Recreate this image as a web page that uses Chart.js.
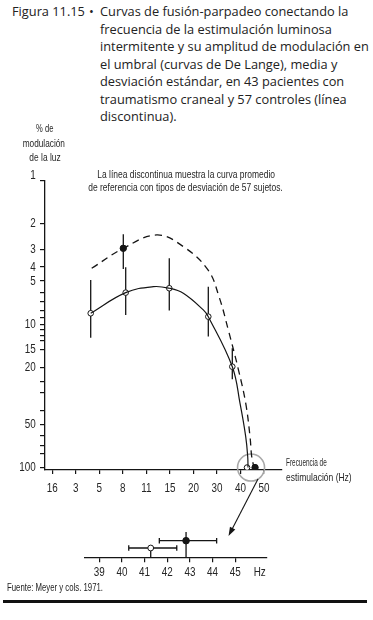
<!DOCTYPE html>
<html lang="es">
<head>
<meta charset="utf-8">
<title>Figura 11.15</title>
<script src="https://cdn.jsdelivr.net/npm/chart.js@4.4.1/dist/chart.umd.min.js"></script>
<style>
  html, body { margin: 0; padding: 0; background: #fff; }
  body { width: 373px; height: 620px; position: relative; overflow: hidden; }
  canvas { position: absolute; left: 0; }
  #mainChart { top: 0; }
  #insetChart { top: 500px; }
  .cap { position: absolute; font-family: "Open Sans", sans-serif; font-size: 12.8px;
         line-height: 17.5px; color: #222; white-space: nowrap; }
  #capLabel { left: 12px; top: 3px; }
  #capDot { left: 89px; top: 3px; }
  #capText { left: 100px; top: 3px; }
  #source { position: absolute; left: 7px; top: 582px; font-family: "Liberation Sans", sans-serif;
            font-size: 10px; line-height: 12px; color: #222; white-space: nowrap; transform-origin: 0 0; }
  #rule { position: absolute; left: 3px; top: 600px; width: 364px; height: 2.5px; background: #111; }
</style>
</head>
<body>
<div class="cap" id="capLabel">Figura 11.15</div>
<div class="cap" id="capDot">•</div>
<div class="cap" id="capText">
  <div>Curvas de fusión-parpadeo conectando la</div>
  <div>frecuencia de la estimulación luminosa</div>
  <div>intermitente y su amplitud de modulación en</div>
  <div>el umbral (curvas de De Lange), media y</div>
  <div>desviación estándar, en 43 pacientes con</div>
  <div>traumatismo craneal y 57 controles (línea</div>
  <div>discontinua).</div>
</div>
<canvas id="mainChart" width="373" height="620"></canvas>
<canvas id="insetChart" width="373" height="90"></canvas>
<div id="source">Fuente: Meyer y cols. 1971.</div>
<div id="rule"></div>
<script>
// Curvas de De Lange
const xLabels = ['16', '3', '5', '8', '11', '15', '20', '30', '40', '50'];
const yTicks = [1, 2, 3, 4, 5, 6, 7, 8, 9, 10, 11, 12, 13, 15, 20, 25, 30, 40, 50, 60, 70, 80, 100];
const yLabels = [1, 2, 3, 4, 5, 10, 15, 20, 50, 100];

// posicion a lo largo del eje de frecuencia (0 = primera marca)
const solidX = [1.633, 3.121, 4.294, 4.974, 5.57, 6.42, 6.633, 7.653, 7.98, 8.223, 8.308, 8.321];
const solidY = [8.4, 6.03, 5.48, 5.62, 6.09, 7.96, 8.87, 19.8, 35.6, 60.8, 83.8, 100];
const dashedX = [1.675, 3.019, 4.439, 5.57, 6.62, 7.088, 7.483, 7.917, 8.223, 8.406, 8.478, 8.576];
const dashedY = [4.08, 2.96, 2.39, 2.88, 4.19, 6.43, 10.98, 20.9, 35.6, 60.8, 83.8, 100];

// pacientes (circulos abiertos), media y desviacion
const patientX = [1.633, 3.121, 4.974, 6.633, 7.653, 8.28];
const patientY = [8.4, 6.03, 5.62, 8.87, 19.8, 100];
const patientLow = [4.92, 4.01, 3.47, 5.48, 14.7];
const patientHigh = [12.42, 8.63, 8.05, 12.22, 24.2];

// controles (circulos llenos)
const controlX = [3.019, 8.62];
const controlY = [2.96, 100];
const controlLow = [2.36];
const controlHigh = [4.12];

// detalle: frecuencia critica en Hz
const insetTicks = [39, 40, 41, 42, 43, 44, 45];
const insetMean = [41.27, 42.83];
const insetLow = [40.3, 41.65];
const insetHigh = [42.42, 44.18];
const insetRow = [1.12, 2.0];
const insetStemTop = [1.12, 3.04];

const FONT = '"Liberation Sans", Arial, sans-serif';
const NARROW_SCALE = 0.76;
const INK = '#151515';
const TEXT = '#262626';

function toPoints(xs, ys) {
    return xs.map((x, i) => ({ x: x, y: ys[i] }));
}

// texto condensado: fuente normal comprimida en horizontal
function drawNarrow(ctx, text, x, y, size, sx, align) {
    ctx.save();
    ctx.font = size + 'px ' + FONT;
    ctx.translate(x, y);
    ctx.scale(sx, 1);
    ctx.textAlign = align;
    ctx.textBaseline = 'middle';
    ctx.fillStyle = TEXT;
    ctx.fillText(text, 0, 0);
    ctx.restore();
}

function drawFitted(ctx, text, x, y, size, width, align) {
    ctx.font = size + 'px ' + FONT;
    const w = ctx.measureText(text).width;
    drawNarrow(ctx, text, x, y, size, width / w, align);
}

const errorBars = {
    id: 'errorBars',
    beforeDatasetsDraw(chart) {
        const { ctx, scales: { x, y } } = chart;
        ctx.save();
        ctx.strokeStyle = INK;
        ctx.lineWidth = 1.3;
        const bars = (xs, lo, hi) => {
            lo.forEach((v, i) => {
                const px = x.getPixelForValue(xs[i]);
                ctx.beginPath();
                ctx.moveTo(px, y.getPixelForValue(v));
                ctx.lineTo(px, y.getPixelForValue(hi[i]));
                ctx.stroke();
            });
        };
        bars(patientX, patientLow, patientHigh);
        bars(controlX, controlLow, controlHigh);

        // circulo gris alrededor de los puntos finales
        const cx = (x.getPixelForValue(patientX[5]) + x.getPixelForValue(controlX[1])) / 2;
        const cy = y.getPixelForValue(100);
        ctx.strokeStyle = '#a8a8a8';
        ctx.lineWidth = 1.6;
        ctx.beginPath();
        ctx.arc(cx, cy, 13.5, 0, Math.PI * 2);
        ctx.stroke();
        ctx.restore();
    },
    afterDraw(chart) {
        const { ctx, scales: { x, y } } = chart;

        // etiquetas de los ejes
        x.ticks.forEach((t, i) => {
            drawNarrow(ctx, xLabels[i], x.getPixelForValue(t.value), 488.5, 13, NARROW_SCALE, 'center');
        });
        y.ticks.forEach(t => {
            if (!yLabels.includes(t.value)) return;
            const py = y.getPixelForValue(t.value) - (t.value === 1 ? 5 : 0);
            drawNarrow(ctx, String(t.value), 35.8, py, 13, NARROW_SCALE, 'right');
        });

        drawFitted(ctx, '% de', 44.7, 129, 10.5, 17.3, 'center');
        drawFitted(ctx, 'modulación', 43.8, 144.3, 10.5, 42.3, 'center');
        drawFitted(ctx, 'de la luz', 45, 158.3, 10.5, 31.3, 'center');

        drawFitted(ctx, 'La línea discontinua muestra la curva promedio', 186.2, 175.5, 10.5, 177.7, 'center');
        drawFitted(ctx, 'de referencia con tipos de desviación de 57 sujetos.', 185.5, 188, 10.5, 194.4, 'center');

        drawFitted(ctx, 'Frecuencia de', 286, 463.3, 11, 40.7, 'left');
        drawFitted(ctx, 'estimulación (Hz)', 286, 478.3, 11, 65.7, 'left');

        // flecha hacia el detalle
        const x0 = 258, y0 = 479, x1 = 228.5, y1 = 536;
        const a = Math.atan2(y1 - y0, x1 - x0);
        ctx.save();
        ctx.strokeStyle = INK;
        ctx.fillStyle = INK;
        ctx.lineWidth = 1.1;
        ctx.beginPath();
        ctx.moveTo(x0, y0);
        ctx.lineTo(x1 - 6 * Math.cos(a), y1 - 6 * Math.sin(a));
        ctx.stroke();
        ctx.beginPath();
        ctx.moveTo(x1, y1);
        ctx.lineTo(x1 - 9 * Math.cos(a) + 3 * Math.sin(a), y1 - 9 * Math.sin(a) - 3 * Math.cos(a));
        ctx.lineTo(x1 - 9 * Math.cos(a) - 3 * Math.sin(a), y1 - 9 * Math.sin(a) + 3 * Math.cos(a));
        ctx.closePath();
        ctx.fill();
        ctx.restore();
    }
};

new Chart(document.getElementById('mainChart'), {
    type: 'scatter',
    data: {
        datasets: [{
            data: toPoints(solidX, solidY),
            showLine: true,
            borderColor: INK,
            borderWidth: 1.2,
            pointRadius: 0,
            tension: 0.4
        }, {
            data: toPoints(dashedX, dashedY),
            showLine: true,
            borderColor: INK,
            borderWidth: 1.3,
            borderDash: [7, 5],
            pointRadius: 0,
            tension: 0.4
        }, {
            data: toPoints(patientX, patientY),
            pointRadius: 2.8,
            pointBackgroundColor: '#fff',
            pointBorderColor: INK,
            pointBorderWidth: 1
        }, {
            data: toPoints(controlX, controlY),
            pointRadius: 3.2,
            pointBackgroundColor: INK,
            pointBorderColor: INK,
            pointBorderWidth: 1
        }]
    },
    options: {
        responsive: false,
        animation: false,
        devicePixelRatio: 1,
        layout: { padding: { top: 180.7, left: 0, right: 91, bottom: 120 } },
        plugins: { legend: { display: false }, tooltip: { enabled: false } },
        scales: {
            x: {
                type: 'linear',
                min: -0.31,
                max: 9.766,
                afterBuildTicks: s => { s.ticks = xLabels.map((_, i) => ({ value: i })); },
                afterFit: s => { s.height = 30; },
                ticks: { display: false },
                grid: { drawOnChartArea: false, tickLength: 4, color: INK, lineWidth: 1.2 },
                border: { color: INK, width: 1.3 }
            },
            y: {
                type: 'logarithmic',
                reverse: true,
                min: 1,
                max: 104,
                afterBuildTicks: s => { s.ticks = yTicks.map(v => ({ value: v })); },
                afterFit: s => { s.width = 45; },
                ticks: { display: false },
                grid: { drawOnChartArea: false, tickLength: 5, color: INK, lineWidth: 1.2 },
                border: { color: INK, width: 1.3 }
            }
        }
    },
    plugins: [errorBars]
});

const insetBars = {
    id: 'insetBars',
    beforeDatasetsDraw(chart) {
        const { ctx, scales: { x, y } } = chart;
        ctx.save();
        ctx.strokeStyle = INK;
        ctx.lineWidth = 1.3;
        insetMean.forEach((m, i) => {
            const py = y.getPixelForValue(insetRow[i]);
            const lo = x.getPixelForValue(insetLow[i]);
            const hi = x.getPixelForValue(insetHigh[i]);
            const px = x.getPixelForValue(m);
            ctx.beginPath();
            ctx.moveTo(lo, py); ctx.lineTo(hi, py);
            ctx.moveTo(lo, py - 2.8); ctx.lineTo(lo, py + 2.8);
            ctx.moveTo(hi, py - 2.8); ctx.lineTo(hi, py + 2.8);
            ctx.moveTo(px, y.getPixelForValue(insetStemTop[i]));
            ctx.lineTo(px, y.getPixelForValue(0));
            ctx.stroke();
        });
        ctx.restore();
    },
    afterDraw(chart) {
        const { ctx, scales: { x } } = chart;
        x.ticks.forEach(t => {
            drawNarrow(ctx, String(t.value), x.getPixelForValue(t.value), 72, 13, NARROW_SCALE, 'center');
        });
        const last = x.getPixelForValue(insetTicks[insetTicks.length - 1]);
        drawNarrow(ctx, 'Hz', last + 24.5, 72, 13, NARROW_SCALE, 'center');
    }
};

new Chart(document.getElementById('insetChart'), {
    type: 'scatter',
    data: {
        datasets: [{
            data: [{ x: insetMean[0], y: insetRow[0] }],
            pointRadius: 2.9,
            pointBackgroundColor: '#fff',
            pointBorderColor: INK,
            pointBorderWidth: 1
        }, {
            data: [{ x: insetMean[1], y: insetRow[1] }],
            pointRadius: 3.3,
            pointBackgroundColor: INK,
            pointBorderColor: INK
        }]
    },
    options: {
        responsive: false,
        animation: false,
        devicePixelRatio: 1,
        layout: { padding: { top: 30.7, left: 85, right: 106.3, bottom: 7.7 } },
        plugins: { legend: { display: false }, tooltip: { enabled: false } },
        scales: {
            x: {
                type: 'linear',
                min: 38.369,
                max: 46.39,
                afterBuildTicks: s => { s.ticks = insetTicks.map(v => ({ value: v })); },
                afterFit: s => { s.height = 25; },
                ticks: { display: false },
                grid: { drawOnChartArea: false, tickLength: 5, color: INK, lineWidth: 1.2 },
                border: { color: INK, width: 1.3 }
            },
            y: { type: 'linear', min: 0, max: 3.2, display: false }
        }
    },
    plugins: [insetBars]
});

// nota de fuente: comprimida al ancho del original
const source = document.getElementById('source');
source.style.transform = 'scaleX(' + (96 / source.getBoundingClientRect().width) + ')';
</script>
</body>
</html>
